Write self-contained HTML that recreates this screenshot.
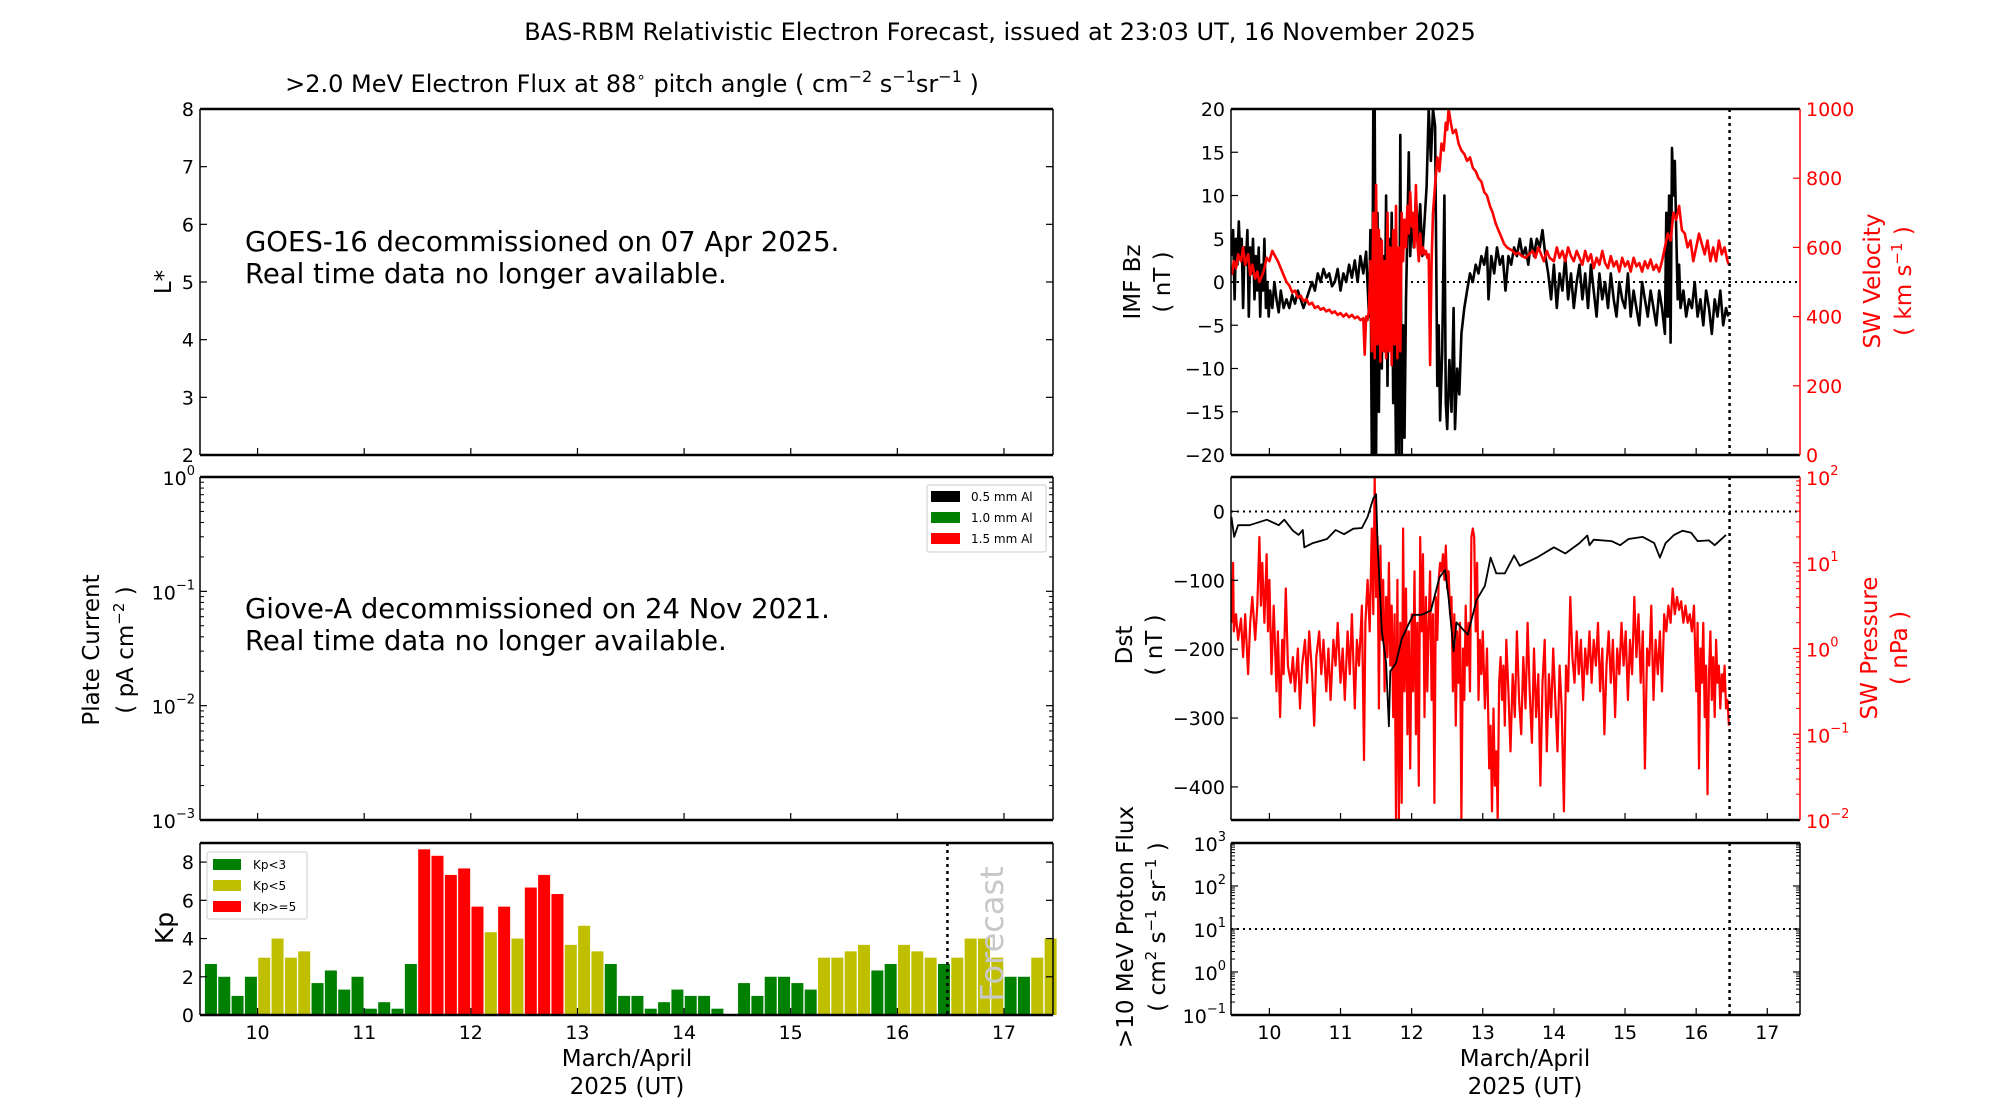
<!DOCTYPE html>
<html><head><meta charset="utf-8"><title>BAS-RBM Forecast</title>
<style>
html,body{margin:0;padding:0;background:#fff;}
svg{display:block;font-family:"DejaVu Sans","Liberation Sans",sans-serif;}
</style></head>
<body>
<svg id="fig" width="2000" height="1100" viewBox="0 0 2000 1100" xmlns="http://www.w3.org/2000/svg">
<defs>
<clipPath id="clipR1"><rect x="1231" y="109" width="569" height="346"/></clipPath>
<clipPath id="clipR2"><rect x="1231" y="477" width="569" height="343"/></clipPath>
</defs>
<rect x="0" y="0" width="2000" height="1100" fill="#fff"/>
<text x="1000" y="40" font-size="24" text-anchor="middle">BAS-RBM Relativistic Electron Forecast, issued at 23:03 UT, 16 November 2025</text>
<text x="632" y="92" font-size="24" text-anchor="middle">&gt;2.0 MeV Electron Flux at 88<tspan font-size="15" dy="-10">∘</tspan><tspan dy="10"> pitch angle ( cm</tspan><tspan font-size="16" dy="-10">−2</tspan><tspan dy="10"> s</tspan><tspan font-size="16" dy="-10">−1</tspan><tspan dy="10">sr</tspan><tspan font-size="16" dy="-10">−1</tspan><tspan dy="10"> )</tspan></text>

<text x="245" y="251" font-size="27.5">GOES-16 decommissioned on 07 Apr 2025.</text>
<text x="245" y="283" font-size="27.5">Real time data no longer available.</text>
<text x="245" y="618" font-size="27.5">Giove-A decommissioned on 24 Nov 2021.</text>
<text x="245" y="650" font-size="27.5">Real time data no longer available.</text>

<text transform="translate(171,282) rotate(-90)" font-size="23" text-anchor="middle">L*</text>
<text transform="translate(99,650) rotate(-90)" font-size="23" text-anchor="middle">Plate Current</text>
<text transform="translate(133,650) rotate(-90)" font-size="23" text-anchor="middle">( pA cm<tspan font-size="15" dy="-9">−2</tspan><tspan dy="9"> )</tspan></text>
<text transform="translate(173,928) rotate(-90)" font-size="25" text-anchor="middle">Kp</text>

<text transform="translate(1140,282) rotate(-90)" font-size="23" text-anchor="middle">IMF Bz</text>
<text transform="translate(1170,282) rotate(-90)" font-size="23" text-anchor="middle">( nT )</text>
<text transform="translate(1880,281) rotate(-90)" font-size="23" text-anchor="middle" fill="#ff0000">SW Velocity</text>
<text transform="translate(1911,281) rotate(-90)" font-size="23" text-anchor="middle" fill="#ff0000">( km s<tspan font-size="15" dy="-9">−1</tspan><tspan dy="9"> )</tspan></text>
<text transform="translate(1132,645) rotate(-90)" font-size="23" text-anchor="middle">Dst</text>
<text transform="translate(1162,645) rotate(-90)" font-size="23" text-anchor="middle">( nT )</text>
<text transform="translate(1877,648) rotate(-90)" font-size="23" text-anchor="middle" fill="#ff0000">SW Pressure</text>
<text transform="translate(1907,648) rotate(-90)" font-size="23" text-anchor="middle" fill="#ff0000">( nPa )</text>
<text transform="translate(1133,927) rotate(-90)" font-size="23" text-anchor="middle">&gt;10 MeV Proton Flux</text>
<text transform="translate(1165,927) rotate(-90)" font-size="23" text-anchor="middle">( cm<tspan font-size="15" dy="-9">2</tspan><tspan dy="9"> s</tspan><tspan font-size="15" dy="-9">−1</tspan><tspan dy="9"> sr</tspan><tspan font-size="15" dy="-9">−1</tspan><tspan dy="9"> )</tspan></text>

<text x="627" y="1066" font-size="23" text-anchor="middle">March/April</text>
<text x="627" y="1094" font-size="23" text-anchor="middle">2025 (UT)</text>
<text x="1525" y="1066" font-size="23" text-anchor="middle">March/April</text>
<text x="1525" y="1094" font-size="23" text-anchor="middle">2025 (UT)</text>

<g id="layer"></g>

<text transform="translate(1003,934) rotate(-90)" font-size="32" text-anchor="middle" fill="#c8c8c8">Forecast</text>

<g>
<rect x="207" y="852" width="100" height="67" fill="#fff" stroke="#ccc" stroke-width="1" rx="2"/>
<rect x="213" y="859" width="28" height="11" fill="#008000"/>
<text x="253" y="869" font-size="12">Kp&lt;3</text>
<rect x="213" y="880" width="28" height="11" fill="#bfbf00"/>
<text x="253" y="890" font-size="12">Kp&lt;5</text>
<rect x="213" y="901" width="28" height="11" fill="#ff0000"/>
<text x="253" y="911" font-size="12">Kp&gt;=5</text>
</g>
<g>
<rect x="927" y="485" width="119" height="67" fill="#fff" stroke="#ccc" stroke-width="1" rx="2"/>
<rect x="931" y="491" width="29" height="11" fill="#000"/>
<text x="971" y="501" font-size="12">0.5 mm Al</text>
<rect x="931" y="512" width="29" height="11" fill="#008000"/>
<text x="971" y="522" font-size="12">1.0 mm Al</text>
<rect x="931" y="533" width="29" height="11" fill="#ff0000"/>
<text x="971" y="543" font-size="12">1.5 mm Al</text>
</g>
</svg>
<script>
const dayTicks = [10,11,12,13,14,15,16,17];
const kpValues = [2.67,2.0,1.0,2.0,3.0,4.0,3.0,3.33,1.67,2.33,1.33,2.0,0.33,0.67,0.33,2.67,8.67,8.33,7.33,7.67,5.67,4.33,5.67,4.0,6.67,7.33,6.33,3.67,4.67,3.33,2.67,1.0,1.0,0.33,0.67,1.33,1.0,1.0,0.33,0,1.67,1.0,2.0,2.0,1.67,1.33,3.0,3.0,3.33,3.67,2.33,2.67,3.67,3.33,3.0,2.67,3.0,4.0,4.0,3.0,2.0,2.0,3.0,4.0];
const kpStartDay = 9.5;
const nowDay = 16.47;
const bzSeries = [[9.47,3],[9.49,6],[9.51,-2],[9.53,5],[9.55,2],[9.57,7],[9.59,3],[9.61,5],[9.63,-3],[9.65,4],[9.67,2],[9.69,6],[9.71,-4],[9.73,4],[9.75,1],[9.77,5],[9.79,-2],[9.81,3],[9.83,-1],[9.85,4],[9.87,-4],[9.89,2],[9.91,-1],[9.93,5],[9.95,-3],[9.97,0],[9.99,-4],[10.01,-1],[10.04,-3],[10.07,0],[10.1,-2],[10.13,-3.5],[10.16,-1],[10.2,-3],[10.24,-2],[10.28,-3],[10.32,-1.5],[10.36,-2.5],[10.4,-1],[10.44,-2],[10.48,-3],[10.52,-2],[10.56,-1],[10.6,0],[10.64,-1],[10.68,1],[10.72,0],[10.76,1.5],[10.8,0.5],[10.84,1],[10.88,-0.5],[10.92,0],[10.96,1.5],[11.0,-1],[11.04,1],[11.08,0],[11.12,2],[11.16,0.5],[11.2,2.5],[11.24,0],[11.28,3],[11.32,1],[11.36,3.5],[11.4,-4],[11.42,6],[11.44,-20],[11.46,20],[11.47,-20],[11.48,20],[11.5,-20],[11.52,8],[11.54,-15],[11.56,5],[11.58,-10],[11.6,3],[11.62,-8],[11.64,10],[11.66,-12],[11.68,5],[11.7,-6],[11.72,8],[11.74,-14],[11.76,-3],[11.78,-20],[11.8,-8],[11.82,-20],[11.84,17],[11.86,-20],[11.88,-5],[11.9,-18],[11.92,-2],[11.94,6],[11.96,15],[11.98,3],[12.0,8],[12.03,4],[12.06,10],[12.09,5],[12.12,9],[12.15,3],[12.18,7],[12.21,11],[12.24,20],[12.27,14],[12.3,20],[12.33,18],[12.36,-12],[12.38,-5],[12.4,-16],[12.43,-8],[12.46,10],[12.48,-14],[12.5,-17],[12.53,-9],[12.56,-15],[12.59,-3],[12.61,-17],[12.64,-10],[12.67,-13],[12.7,-6],[12.74,-3],[12.78,-1],[12.82,1],[12.86,0],[12.9,2],[12.94,1],[12.98,3],[13.02,2],[13.06,4],[13.08,-2],[13.12,3],[13.16,1],[13.2,4],[13.24,2],[13.28,3],[13.32,-1],[13.36,3],[13.4,2],[13.44,4],[13.48,3],[13.52,5],[13.56,3],[13.6,4],[13.64,2],[13.68,5],[13.72,3],[13.76,5],[13.8,4],[13.84,6],[13.88,3],[13.92,1],[13.96,-2],[14.0,2],[14.04,-3],[14.08,1],[14.12,-1],[14.16,3],[14.2,-2],[14.24,1],[14.28,-3],[14.32,0],[14.36,2],[14.4,-2],[14.44,1],[14.48,-3],[14.52,2],[14.56,-1],[14.6,-4],[14.64,1],[14.68,-2],[14.72,0],[14.76,-3],[14.8,1],[14.84,-2],[14.88,-4],[14.92,0],[14.96,-2],[15.0,-3],[15.04,1],[15.08,-4],[15.12,-1],[15.16,-3],[15.2,-5],[15.24,0],[15.28,-2],[15.32,-4],[15.36,-1],[15.4,-3],[15.44,-5],[15.48,-1],[15.52,-3],[15.56,-6],[15.58,8],[15.6,-4],[15.62,10],[15.64,-7],[15.66,15.5],[15.68,10],[15.7,14],[15.72,6],[15.74,-2],[15.76,2],[15.78,-3],[15.82,-1],[15.86,-4],[15.9,-2],[15.94,-3],[15.98,0],[16.02,-4],[16.06,-2],[16.1,-5],[16.14,-1],[16.18,-3],[16.22,-6],[16.26,-2],[16.3,-4],[16.34,-1],[16.38,-5],[16.42,-3],[16.45,-4]];
const velocitySeries = [[9.47,520],[9.5,560],[9.53,540],[9.56,580],[9.6,560],[9.63,600],[9.66,550],[9.7,580],[9.73,520],[9.76,550],[9.8,510],[9.83,530],[9.86,500],[9.9,520],[9.93,540],[9.96,570],[10.0,560],[10.04,590],[10.08,575],[10.12,560],[10.16,540],[10.2,520],[10.24,500],[10.28,490],[10.32,470],[10.36,475],[10.4,455],[10.44,460],[10.48,445],[10.52,450],[10.56,435],[10.6,440],[10.64,425],[10.68,430],[10.72,420],[10.76,425],[10.8,415],[10.84,420],[10.88,410],[10.92,415],[10.96,405],[11.0,410],[11.04,400],[11.08,408],[11.12,398],[11.16,405],[11.2,395],[11.24,400],[11.28,390],[11.32,395],[11.34,290],[11.36,400],[11.38,390],[11.4,420],[11.42,560],[11.44,300],[11.46,700],[11.48,280],[11.5,780],[11.52,320],[11.54,650],[11.56,270],[11.58,620],[11.6,300],[11.62,560],[11.64,280],[11.66,700],[11.68,300],[11.7,600],[11.72,260],[11.74,650],[11.76,320],[11.78,720],[11.8,280],[11.82,600],[11.84,300],[11.86,700],[11.88,560],[11.9,680],[11.92,600],[11.94,720],[11.96,640],[11.98,760],[12.0,660],[12.02,700],[12.04,600],[12.06,780],[12.08,620],[12.1,560],[12.12,640],[12.14,580],[12.16,600],[12.18,580],[12.2,590],[12.22,570],[12.24,580],[12.26,260],[12.28,560],[12.3,700],[12.33,780],[12.36,860],[12.39,820],[12.42,900],[12.45,880],[12.48,960],[12.5,940],[12.52,1000],[12.55,960],[12.58,930],[12.62,940],[12.66,900],[12.7,880],[12.74,870],[12.78,850],[12.82,860],[12.86,830],[12.9,820],[12.94,800],[12.98,790],[13.02,760],[13.06,750],[13.1,720],[13.14,700],[13.18,670],[13.22,650],[13.26,630],[13.3,610],[13.34,600],[13.38,595],[13.42,590],[13.46,580],[13.5,585],[13.55,575],[13.6,570],[13.65,580],[13.7,590],[13.74,570],[13.78,600],[13.82,580],[13.86,560],[13.9,590],[13.94,570],[14.0,560],[14.04,600],[14.08,570],[14.12,590],[14.16,560],[14.2,600],[14.24,575],[14.28,560],[14.32,590],[14.36,570],[14.4,550],[14.44,590],[14.48,560],[14.52,580],[14.56,540],[14.6,570],[14.64,550],[14.68,590],[14.72,555],[14.76,540],[14.8,575],[14.84,545],[14.88,560],[14.92,530],[14.96,570],[15.0,545],[15.04,560],[15.08,530],[15.12,570],[15.16,545],[15.2,555],[15.24,530],[15.28,560],[15.32,540],[15.36,565],[15.4,535],[15.44,550],[15.48,530],[15.52,560],[15.56,600],[15.6,640],[15.64,620],[15.68,700],[15.72,680],[15.76,720],[15.8,650],[15.84,640],[15.88,600],[15.92,620],[15.96,560],[16.0,600],[16.04,640],[16.08,610],[16.12,580],[16.16,620],[16.2,560],[16.24,600],[16.28,560],[16.32,620],[16.36,580],[16.4,600],[16.44,560],[16.46,550]];
const dstSeries = [[9.465,-8],[9.505,-37],[9.56,-20],[9.72,-20],[9.965,-12],[10.13,-20],[10.21,-12],[10.33,-28],[10.41,-34],[10.47,-27],[10.49,-52],[10.61,-46],[10.81,-40],[10.93,-27],[11.05,-33],[11.18,-25],[11.3,-24],[11.38,-8],[11.46,19],[11.5,25],[11.52,-43],[11.58,-173],[11.64,-220],[11.68,-312],[11.7,-232],[11.78,-220],[11.86,-185],[12.02,-150],[12.14,-150],[12.27,-144],[12.39,-96],[12.47,-85],[12.52,-126],[12.59,-203],[12.63,-161],[12.79,-179],[12.91,-129],[13.03,-108],[13.11,-67],[13.19,-90],[13.31,-90],[13.44,-64],[13.52,-79],[13.76,-67],[14.0,-52],[14.16,-61],[14.36,-46],[14.47,-35],[14.5,-49],[14.56,-41],[14.81,-43],[14.93,-49],[15.05,-40],[15.25,-37],[15.41,-46],[15.49,-67],[15.57,-46],[15.69,-34],[15.81,-28],[15.93,-31],[16.02,-43],[16.18,-42],[16.26,-49],[16.42,-34]];
const pressureLog10Series = [[9.47,0.3],[9.49,1.0],[9.5,0.2],[9.53,0.4],[9.56,0.1],[9.6,0.35],[9.63,-0.1],[9.66,0.4],[9.7,-0.3],[9.73,0.3],[9.76,0.6],[9.8,0.1],[9.83,0.5],[9.86,1.3],[9.88,0.5],[9.9,1.0],[9.93,0.3],[9.96,1.1],[9.98,0.2],[10.0,0.8],[10.03,-0.3],[10.06,0.5],[10.1,-0.5],[10.12,0.2],[10.15,-0.8],[10.18,0.1],[10.2,-0.3],[10.23,0.7],[10.26,-0.2],[10.3,-0.4],[10.33,-0.1],[10.36,-0.5],[10.4,0.0],[10.43,-0.7],[10.46,-0.2],[10.5,0.1],[10.53,-0.4],[10.56,0.2],[10.6,-0.3],[10.63,-0.9],[10.66,-0.1],[10.7,0.2],[10.73,-0.3],[10.76,0.1],[10.8,-0.5],[10.83,0.0],[10.86,-0.6],[10.9,0.1],[10.93,-0.2],[10.96,0.3],[11.0,-0.4],[11.03,0.0],[11.06,-0.6],[11.1,0.2],[11.13,-0.3],[11.16,0.4],[11.2,-0.7],[11.23,0.1],[11.26,-0.2],[11.3,0.5],[11.33,-1.3],[11.35,0.3],[11.38,0.8],[11.41,0.2],[11.44,1.4],[11.46,0.4],[11.48,2.0],[11.5,0.6],[11.52,1.3],[11.54,-0.7],[11.56,1.2],[11.58,0.1],[11.6,0.8],[11.62,-0.5],[11.64,0.6],[11.66,-0.1],[11.68,1.0],[11.7,-0.2],[11.72,0.5],[11.74,-0.8],[11.76,0.4],[11.78,-2.0],[11.8,0.8],[11.82,-2.0],[11.84,0.3],[11.86,-1.8],[11.88,1.4],[11.9,-0.5],[11.92,0.7],[11.94,-1.0],[11.96,0.2],[11.98,-1.4],[12.0,0.4],[12.02,-0.5],[12.04,0.9],[12.06,-1.0],[12.08,0.3],[12.1,-1.6],[12.12,1.3],[12.14,0.2],[12.16,1.1],[12.18,-0.8],[12.2,0.6],[12.22,-0.5],[12.24,0.3],[12.26,0.9],[12.28,-0.6],[12.3,0.4],[12.32,-1.8],[12.34,0.6],[12.36,0.1],[12.38,0.8],[12.4,1.0],[12.42,0.9],[12.44,1.1],[12.46,0.8],[12.48,1.2],[12.5,0.7],[12.52,0.9],[12.54,0.4],[12.56,0.6],[12.58,-0.5],[12.6,0.4],[12.62,-0.9],[12.64,0.2],[12.66,-0.4],[12.68,0.3],[12.7,-2.0],[12.72,0.0],[12.74,-0.6],[12.76,0.5],[12.78,-0.2],[12.8,0.3],[12.82,-0.5],[12.84,1.3],[12.86,1.4],[12.88,1.3],[12.9,0.2],[12.92,1.0],[12.94,-0.6],[12.96,0.1],[12.98,-0.3],[13.0,0.2],[13.03,-0.7],[13.06,0.0],[13.09,-1.4],[13.11,-0.9],[13.13,-1.9],[13.15,-0.7],[13.17,-1.6],[13.19,-1.2],[13.21,-2.0],[13.23,-0.4],[13.25,-0.1],[13.27,-0.6],[13.29,-0.2],[13.31,-0.9],[13.33,0.1],[13.36,-0.5],[13.39,-1.2],[13.42,-0.3],[13.45,-0.8],[13.48,0.2],[13.51,-0.6],[13.54,-1.0],[13.57,-0.1],[13.6,-0.7],[13.63,0.3],[13.66,-0.5],[13.69,-1.1],[13.72,0.0],[13.75,-0.8],[13.78,-0.3],[13.81,-1.6],[13.84,-0.4],[13.87,0.1],[13.9,-1.2],[13.93,-0.3],[13.96,-0.8],[13.99,0.0],[14.02,-0.6],[14.05,-1.2],[14.08,-0.2],[14.11,-0.7],[14.14,-1.9],[14.17,-0.2],[14.2,-0.5],[14.23,0.6],[14.26,-0.1],[14.29,-0.4],[14.32,0.2],[14.35,-0.3],[14.38,0.1],[14.41,-0.6],[14.44,0.0],[14.47,-0.3],[14.5,0.2],[14.53,-0.4],[14.56,0.1],[14.59,-0.2],[14.62,0.3],[14.65,-0.5],[14.68,0.0],[14.71,-1.0],[14.74,-0.2],[14.77,0.2],[14.8,-0.4],[14.83,0.1],[14.86,-0.8],[14.89,0.0],[14.92,-0.3],[14.95,0.3],[14.98,-0.2],[15.01,0.2],[15.04,-0.6],[15.07,0.1],[15.1,-0.3],[15.13,0.6],[15.16,-0.1],[15.19,0.4],[15.22,-0.4],[15.25,0.2],[15.28,-1.4],[15.31,0.0],[15.34,-0.2],[15.37,0.5],[15.4,-0.6],[15.43,0.1],[15.46,-0.3],[15.49,0.2],[15.52,-0.5],[15.55,0.4],[15.58,0.2],[15.61,0.5],[15.64,0.3],[15.67,0.7],[15.7,0.4],[15.73,0.6],[15.76,0.45],[15.79,0.55],[15.82,0.3],[15.85,0.5],[15.88,0.3],[15.91,0.4],[15.94,0.2],[15.97,0.5],[16.0,-0.5],[16.02,0.3],[16.04,-1.4],[16.06,0.0],[16.08,-0.4],[16.1,0.3],[16.12,-0.8],[16.14,-0.2],[16.16,-1.7],[16.18,-0.3],[16.2,0.2],[16.22,-0.6],[16.24,-0.1],[16.26,-0.8],[16.28,0.1],[16.3,-0.4],[16.32,-0.2],[16.34,-0.7],[16.36,-0.3],[16.38,-0.5],[16.4,-0.2],[16.42,-0.7],[16.44,-0.6],[16.46,-0.9]];
const lstarTicks = [2,3,4,5,6,7,8];
const kpTicks = [0,2,4,6,8];
const bzTicks = [-20,-15,-10,-5,0,5,10,15,20];
const velocityTicks = [0,200,400,600,800,1000];
const dstTicks = [0,-100,-200,-300,-400];

const NS = 'http://www.w3.org/2000/svg';
const layer = document.getElementById('layer');
const DOM = [9.46, 17.46];
const P1 = {x0:200,x1:1053,y0:109,y1:455};
const P2 = {x0:200,x1:1053,y0:477,y1:820};
const P3 = {x0:200,x1:1053,y0:843,y1:1015};
const R1 = {x0:1231,x1:1800,y0:109,y1:455};
const R2 = {x0:1231,x1:1800,y0:477,y1:820};
const R3 = {x0:1231,x1:1800,y0:843,y1:1015};

function mk(tag, attrs, name, parent) {
  const el = document.createElementNS(NS, tag);
  for (const k in attrs) el.setAttribute(k, attrs[k]);
  
  
  (parent || layer).appendChild(el);
  return el;
}
function xOf(p, t) { return p.x0 + (t - DOM[0]) / (DOM[1] - DOM[0]) * (p.x1 - p.x0); }
function yLin(p, v, lo, hi) { return p.y1 - (v - lo) / (hi - lo) * (p.y1 - p.y0); }
function fmt(v) { return v < 0 ? '\u2212' + Math.abs(v) : String(v); }

function frame(p, name, rightColor) {
  mk('line', {x1:p.x0,y1:p.y0,x2:p.x1,y2:p.y0,stroke:'#000','stroke-width':2.5}, name + '-top-spine');
  mk('line', {x1:p.x0,y1:p.y1,x2:p.x1,y2:p.y1,stroke:'#000','stroke-width':2.5}, name + '-bottom-spine');
  mk('line', {x1:p.x0,y1:p.y0,x2:p.x0,y2:p.y1,stroke:'#000','stroke-width':1.5}, name + '-left-spine');
  mk('line', {x1:p.x1,y1:p.y0,x2:p.x1,y2:p.y1,stroke:rightColor||'#000','stroke-width':1.5}, name + '-right-spine');
}
function xTicks(p, name, labels) {
  dayTicks.forEach(d => {
    const x = xOf(p, d);
    mk('line', {x1:x,y1:p.y1,x2:x,y2:p.y1-7,stroke:'#000','stroke-width':1.2}, name + '-x-tick');
    if (labels) {
      const t = mk('text', {x:x,y:p.y1+24,'font-size':19,'text-anchor':'middle'}, name + '-x-tick-label');
      t.textContent = d;
    }
  });
}
function linY(p, name, ticks, lo, hi, side, color, mirror) {
  ticks.forEach(v => {
    const y = yLin(p, v, lo, hi);
    if (side === 'left') {
      mk('line', {x1:p.x0,y1:y,x2:p.x0+7,y2:y,stroke:'#000','stroke-width':1.2}, name + '-y-tick');
      if (mirror) mk('line', {x1:p.x1,y1:y,x2:p.x1-7,y2:y,stroke:'#000','stroke-width':1.2}, name + '-y-tick-right');
      const t = mk('text', {x:p.x0-6,y:y+7,'font-size':19,'text-anchor':'end'}, name + '-y-tick-label');
      t.textContent = fmt(v);
    } else {
      mk('line', {x1:p.x1,y1:y,x2:p.x1-7,y2:y,stroke:color,'stroke-width':1.2}, name + '-y2-tick');
      const t = mk('text', {x:p.x1+6,y:y+7,'font-size':19,'text-anchor':'start',fill:color}, name + '-y2-tick-label');
      t.textContent = fmt(v);
    }
  });
}
function logY(p, name, lo, hi, side, color, leftMinor, rightMinor) {
  for (let e = lo; e <= hi; e++) {
    const y = yLin(p, e, lo, hi);
    const ax = side === 'left' ? p.x0 : p.x1;
    const dir = side === 'left' ? 1 : -1;
    mk('line', {x1:ax,y1:y,x2:ax+dir*7,y2:y,stroke:color,'stroke-width':1.2}, name + '-log-tick');
    if (side === 'left') mk('line', {x1:p.x1,y1:y,x2:p.x1-7,y2:y,stroke:'#000','stroke-width':1.2}, name + '-log-tick-right');
    const t = mk('text', {x: side === 'left' ? p.x0-5 : p.x1+6, y:y+8,'font-size':19,'text-anchor': side === 'left' ? 'end':'start',fill:color}, name + '-log-tick-label');
    t.textContent = '10';
    const s = mk('tspan', {'font-size':13,dy:-10}, name + '-log-tick-exponent', t);
    s.textContent = fmt(e);
    if (e < hi) {
      for (let m = 2; m <= 9; m++) {
        const ym = yLin(p, e + Math.log10(m), lo, hi);
        if (leftMinor) mk('line', {x1:p.x0,y1:ym,x2:p.x0+4,y2:ym,stroke:'#000','stroke-width':1}, name + '-minor-tick');
        if (rightMinor) mk('line', {x1:p.x1,y1:ym,x2:p.x1-4,y2:ym,stroke:rightMinor,'stroke-width':1}, name + '-minor-tick-right');
      }
    }
  }
}
function series(p, data, yfn, color, width, name, clip) {
  const d = data.map((pt, i) => (i ? 'L' : 'M') + xOf(p, pt[0]).toFixed(1) + ' ' + yfn(pt[1]).toFixed(1)).join(' ');
  mk('path', {d:d,fill:'none',stroke:color,'stroke-width':width,'stroke-linejoin':'round','clip-path':'url(#' + clip + ')'}, name);
}
function nowLine(p, name) {
  const x = xOf(p, nowDay);
  mk('line', {x1:x,y1:p.y0,x2:x,y2:p.y1,stroke:'#000','stroke-width':2.5,'stroke-dasharray':'3 4'}, name);
}

xTicks(P1, 'flux', false);
linY(P1, 'lstar', lstarTicks, 2, 8, 'left', '#000', true);
frame(P1, 'flux-panel');

xTicks(P2, 'plate', false);
logY(P2, 'plate', -3, 0, 'left', '#000', true, '#000');
frame(P2, 'plate-panel');

const kpColor = v => v < 2.99 ? '#008000' : (v < 4.99 ? '#bfbf00' : '#ff0000');
kpValues.forEach((v, i) => {
  const c = kpStartDay + (i + 0.5) / 8;
  const xl = xOf(P3, c - 0.45 / 8), xr = xOf(P3, c + 0.45 / 8);
  const y = yLin(P3, v, 0, 9);
  const b = mk('rect', {x:xl,y:y,width:xr-xl,height:P3.y1-y,fill:kpColor(v)}, 'kp-bar');
  
});
nowLine(P3, 'kp-now-line');
xTicks(P3, 'kp', true);
linY(P3, 'kp', kpTicks, 0, 9, 'left', '#000', true);
frame(P3, 'kp-panel');

const yBz = v => yLin(R1, v, -20, 20);
const yVel = v => yLin(R1, v, 0, 1000);
mk('line', {x1:R1.x0,y1:yBz(0),x2:R1.x1,y2:yBz(0),stroke:'#000','stroke-width':2,'stroke-dasharray':'2 4'}, 'bz-zero-line');
series(R1, bzSeries, yBz, '#000', 2.6, 'imf-bz-line', 'clipR1');
series(R1, velocitySeries, yVel, '#ff0000', 2.6, 'sw-velocity-line', 'clipR1');
nowLine(R1, 'bz-now-line');
xTicks(R1, 'bz', false);
linY(R1, 'bz', bzTicks, -20, 20, 'left', '#000', false);
linY(R1, 'velocity', velocityTicks, 0, 1000, 'right', '#ff0000', false);
frame(R1, 'bz-panel', '#ff0000');

const yDst = v => yLin(R2, v, -448, 50);
const yPres = v => yLin(R2, v, -2, 2);
mk('line', {x1:R2.x0,y1:yDst(0),x2:R2.x1,y2:yDst(0),stroke:'#000','stroke-width':2,'stroke-dasharray':'2 4'}, 'dst-zero-line');
series(R2, pressureLog10Series, yPres, '#ff0000', 2.2, 'sw-pressure-line', 'clipR2');
series(R2, dstSeries, yDst, '#000', 1.8, 'dst-line', 'clipR2');
nowLine(R2, 'dst-now-line');
xTicks(R2, 'dst', false);
linY(R2, 'dst', dstTicks, -448, 50, 'left', '#000', false);
logY(R2, 'pressure', -2, 2, 'right', '#ff0000', false, '#ff0000');
frame(R2, 'dst-panel', '#ff0000');

const yPro = v => yLin(R3, v, -1, 3);
mk('line', {x1:R3.x0,y1:yPro(1),x2:R3.x1,y2:yPro(1),stroke:'#000','stroke-width':2,'stroke-dasharray':'2 4'}, 'proton-threshold-line');
nowLine(R3, 'proton-now-line');
xTicks(R3, 'proton', true);
logY(R3, 'proton', -1, 3, 'left', '#000', true, '#000');
frame(R3, 'proton-panel');
</script>
</body></html>
